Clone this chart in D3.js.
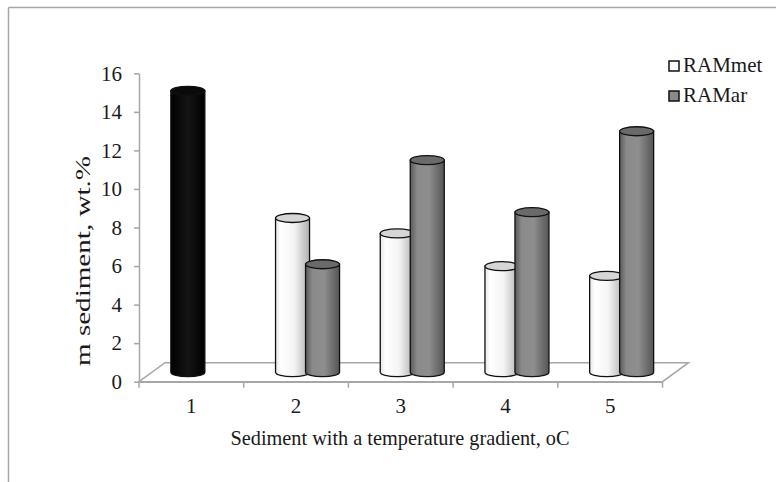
<!DOCTYPE html>
<html>
<head>
<meta charset="utf-8">
<script src="https://cdn.jsdelivr.net/npm/d3@7"></script>
<style>
  body { margin: 0; background: #fff; }
</style>
</head>
<body>
<div id="chart"></div>
<script>
// data
var categories = ["1", "2", "3", "4", "5"]
var series = ["RAMmet", "RAMar"]
var ramMet = [14.6, 8.0, 7.2, 5.5, 5.0]
var ramAr = [null, 5.6, 11.0, 8.3, 12.5]
var yTicks = [0, 2, 4, 6, 8, 10, 12, 14, 16]
var xTitle = "Sediment with a temperature gradient, oC"
var yTitle = "m sediment, wt.%"

var W = 783, H = 482
var serif = "'Liberation Serif', 'Times New Roman', serif"
var depth = { dx: 26, dy: -19 }   // floor depth, bars stand half way in

var svg = d3.select("#chart").append("svg")
    .attr("width", W)
    .attr("height", H)

var defs = svg.append("defs")
function grad(id, stops) {
    var g = defs.append("linearGradient").attr("id", id)
        .attr("x1", "0").attr("x2", "1").attr("y1", "0").attr("y2", "0")
    stops.forEach(function (s) {
        g.append("stop").attr("offset", s[0]).attr("stop-color", s[1])
    })
}
grad("gWhite", [[0, "#e4e4e4"], [0.15, "#ffffff"], [0.55, "#f4f4f4"], [1, "#b0b0b0"]])
grad("gGray", [[0, "#5a5a5a"], [0.2, "#8a8a8a"], [0.55, "#8e8e8e"], [1, "#555555"]])
grad("gBlack", [[0, "#000"], [0.5, "#151515"], [1, "#000"]])

// outer frame (top + left only)
svg.append("line").attr("x1", 8.5).attr("y1", 7.5).attr("x2", 776).attr("y2", 7.5)
    .attr("stroke", "#a6a6a6").attr("stroke-width", 1.5)
svg.append("line").attr("x1", 8.5).attr("y1", 7.5).attr("x2", 8.5).attr("y2", H)
    .attr("stroke", "#a6a6a6").attr("stroke-width", 1.5)

var x0 = 139, x1e = 662.5
var y = d3.scaleLinear().domain([0, 16]).range([381.7, 73.3])
var x = d3.scaleBand().domain(categories).range([x0, x1e])
var xs = d3.scaleBand().domain(series).range([-31.5, 28.5])

// floor
var fy = y(0)
svg.append("path")
    .attr("d", "M" + x0 + "," + fy + "L" + (x0 + depth.dx) + "," + (fy + depth.dy) +
        "L" + (x1e + depth.dx) + "," + (fy + depth.dy) + "L" + x1e + "," + fy + "Z")
    .attr("fill", "none")
    .attr("stroke", "#a6a6a6")
    .attr("stroke-width", 1.5)

// y axis
var yax = svg.append("g")
    .attr("transform", "translate(" + x0 + ",0)")
    .call(d3.axisLeft(y).tickValues(yTicks).tickSize(5).tickSizeOuter(0).tickPadding(12))
yax.attr("font-family", null)
yax.select(".domain").attr("stroke", "#a6a6a6").attr("stroke-width", 1.5)
yax.selectAll(".tick line").attr("stroke", "#a6a6a6").attr("stroke-width", 1.5)
yax.selectAll("text")
    .style("font-family", serif)
    .style("font-size", "21px")
    .attr("fill", "#1a1a1a")

// x axis: labels at band centres, ticks at band edges
var xax = svg.append("g")
    .attr("transform", "translate(0," + fy + ")")
    .call(d3.axisBottom(x).tickSize(0).tickPadding(16))
xax.select(".domain").attr("stroke", "#a6a6a6").attr("stroke-width", 1.5)
xax.selectAll("text")
    .style("font-family", serif)
    .style("font-size", "21px")
    .attr("fill", "#1a1a1a")
var edges = categories.map(function (d) { return x(d) }).concat([x1e])
xax.selectAll("edge")
    .data(edges)
    .enter()
    .append("line")
        .attr("x1", function (d) { return d })
        .attr("x2", function (d) { return d })
        .attr("y1", 0)
        .attr("y2", 6)
        .attr("stroke", "#a6a6a6")
        .attr("stroke-width", 1.5)

// bars as cylinders
var rows = []
categories.forEach(function (c, i) {
    rows.push({ cat: c, s: "RAMmet", v: ramMet[i] })
    rows.push({ cat: c, s: "RAMar", v: ramAr[i] })
})
rows = rows.filter(function (d) { return d.v != null })

var rx = 17, ry = 4.5
function fillOf(d) {
    if (d.cat == categories[0]) return "url(#gBlack)"
    return d.s == "RAMmet" ? "url(#gWhite)" : "url(#gGray)"
}
function topOf(d) {
    if (d.cat == categories[0]) return "#0a0a0a"
    return d.s == "RAMmet" ? "#d6d6d6" : "#6a6a6a"
}
function cx(d) { return x(d.cat) + x.bandwidth() / 2 + xs(d.s) + xs.bandwidth() / 2 + depth.dx / 2 }

var cyl = svg.selectAll("cyl")
    .data(rows)
    .enter()
    .append("g")

cyl.append("path")
    .attr("d", function (d) {
        var c = cx(d), yt = y(d.v) + depth.dy / 2, yb = y(0) + depth.dy / 2
        return "M" + (c - rx) + "," + yt + "L" + (c - rx) + "," + yb +
            "A" + rx + " " + ry + " 0 0 0 " + (c + rx) + "," + yb +
            "L" + (c + rx) + "," + yt + "Z"
    })
    .attr("fill", fillOf)
    .attr("stroke", "#111")
    .attr("stroke-width", 1.3)

cyl.append("ellipse")
    .attr("cx", cx)
    .attr("cy", function (d) { return y(d.v) + depth.dy / 2 })
    .attr("rx", rx)
    .attr("ry", ry)
    .attr("fill", topOf)
    .attr("stroke", "#111")
    .attr("stroke-width", 1.3)

// axis titles
svg.append("text")
    .attr("x", 400)
    .attr("y", 445)
    .attr("text-anchor", "middle")
    .attr("textLength", 339)
    .attr("lengthAdjust", "spacingAndGlyphs")
    .style("font-family", serif)
    .style("font-size", "21px")
    .attr("fill", "#1a1a1a")
    .text(xTitle)

svg.append("text")
    .attr("transform", "translate(90,261) rotate(-90)")
    .attr("text-anchor", "middle")
    .attr("textLength", 210)
    .attr("lengthAdjust", "spacingAndGlyphs")
    .style("font-family", serif)
    .style("font-size", "22px")
    .attr("fill", "#1a1a1a")
    .text(yTitle)

// legend
var leg = svg.selectAll("leg")
    .data(series)
    .enter()
    .append("g")
    .attr("transform", function (d, i) { return "translate(669," + (61 + i * 30) + ")" })
leg.append("rect")
    .attr("width", 10)
    .attr("height", 10)
    .attr("fill", function (d, i) { return i == 0 ? "#fff" : "#8a8a8a" })
    .attr("stroke", "#111")
    .attr("stroke-width", 1.5)
leg.append("text")
    .attr("x", 14)
    .attr("y", 11)
    .style("font-family", serif)
    .style("font-size", "21px")
    .attr("fill", "#1a1a1a")
    .text(function (d) { return d })
</script>
</body>
</html>
